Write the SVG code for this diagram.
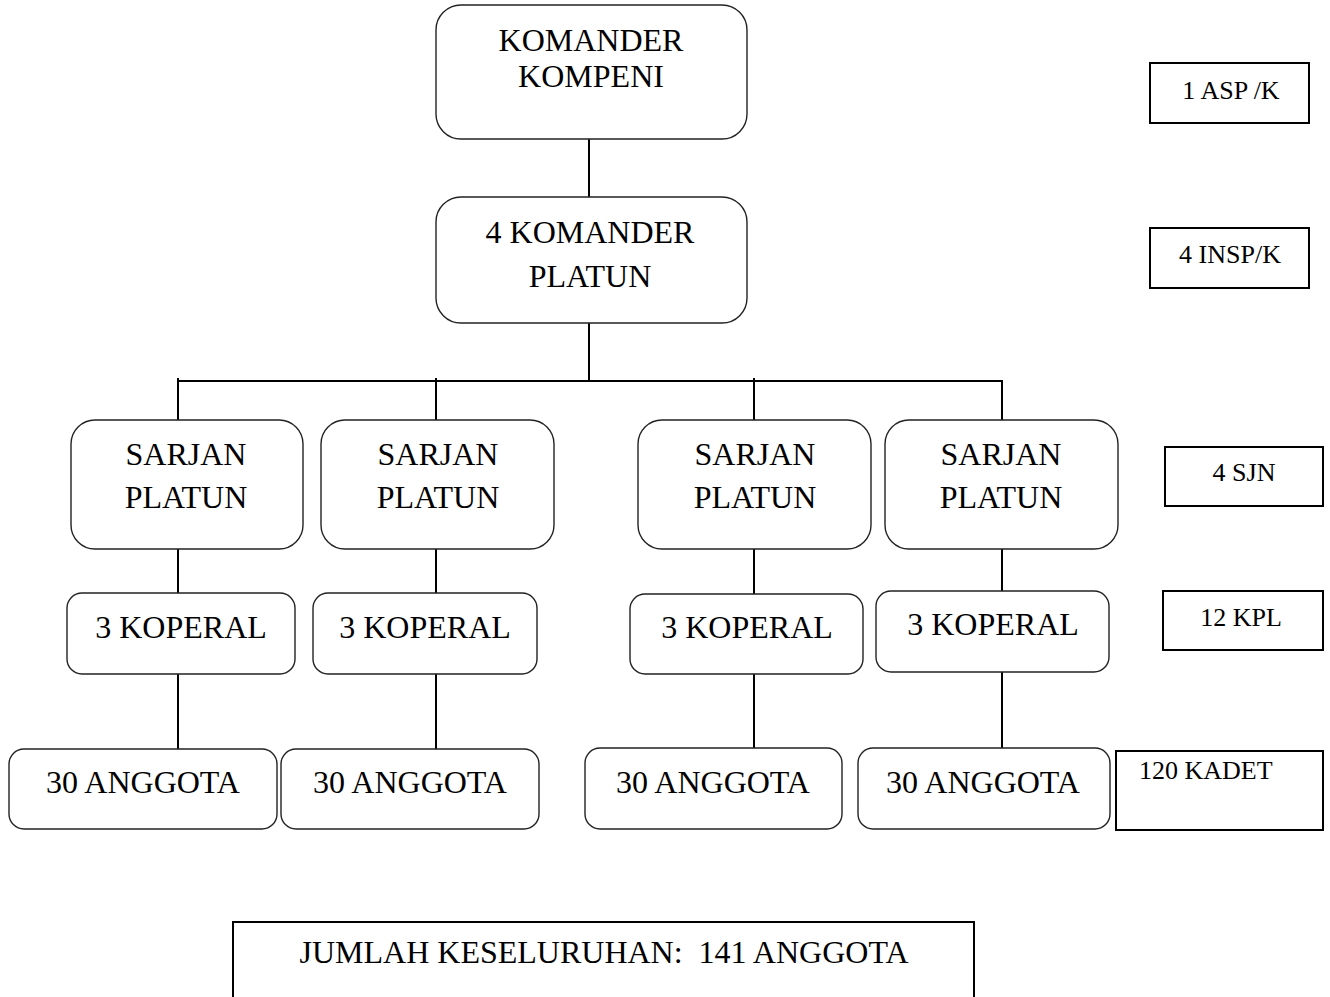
<svg xmlns="http://www.w3.org/2000/svg" width="1330" height="997" viewBox="0 0 1330 997">
<style>
.rb{fill:#fff;stroke:#222;stroke-width:1.4}
.sb{fill:#fff;stroke:#000;stroke-width:2}
.t{font-family:"Liberation Serif","Times New Roman",serif;font-size:32px;fill:#000;text-anchor:middle}
.s{font-family:"Liberation Serif","Times New Roman",serif;font-size:26px;fill:#000;text-anchor:middle}
.c{stroke:#000;stroke-width:2;fill:none}
</style>
<rect width="1330" height="997" fill="#fff"/>
<g id="connectors">
<line class="c" x1="589" y1="139" x2="589" y2="197"/>
<line class="c" x1="589" y1="323" x2="589" y2="381"/>
<line class="c" x1="177" y1="381" x2="1003" y2="381"/>
<line class="c" x1="178" y1="378" x2="178" y2="420"/>
<line class="c" x1="436" y1="378" x2="436" y2="420"/>
<line class="c" x1="754" y1="378" x2="754" y2="420"/>
<line class="c" x1="1002" y1="381" x2="1002" y2="420"/>
<line class="c" x1="178" y1="549" x2="178" y2="593"/>
<line class="c" x1="436" y1="549" x2="436" y2="593"/>
<line class="c" x1="754" y1="549" x2="754" y2="594"/>
<line class="c" x1="1002" y1="549" x2="1002" y2="591"/>
<line class="c" x1="178" y1="674" x2="178" y2="749"/>
<line class="c" x1="436" y1="674" x2="436" y2="749"/>
<line class="c" x1="754" y1="674" x2="754" y2="748"/>
<line class="c" x1="1002" y1="672" x2="1002" y2="748"/>
</g>
<g id="komander-kompeni">
<rect class="rb" x="436" y="5" width="311" height="134" rx="25"/>
<text class="t" x="591" y="51">KOMANDER</text>
<text class="t" x="591" y="87">KOMPENI</text>
</g>
<g id="komander-platun">
<rect class="rb" x="436" y="197" width="311" height="126" rx="25"/>
<text class="t" x="590" y="243">4 KOMANDER</text>
<text class="t" x="590" y="287">PLATUN</text>
</g>
<g id="sarjan-1">
<rect class="rb" x="71" y="420" width="232" height="129" rx="24"/>
<text class="t" x="186" y="465">SARJAN</text>
<text class="t" x="186" y="508">PLATUN</text>
</g>
<g id="sarjan-2">
<rect class="rb" x="321" y="420" width="233" height="129" rx="24"/>
<text class="t" x="438" y="465">SARJAN</text>
<text class="t" x="438" y="508">PLATUN</text>
</g>
<g id="sarjan-3">
<rect class="rb" x="638" y="420" width="233" height="129" rx="24"/>
<text class="t" x="755" y="465">SARJAN</text>
<text class="t" x="755" y="508">PLATUN</text>
</g>
<g id="sarjan-4">
<rect class="rb" x="885" y="420" width="233" height="129" rx="24"/>
<text class="t" x="1001" y="465">SARJAN</text>
<text class="t" x="1001" y="508">PLATUN</text>
</g>
<g id="koperal-1">
<rect class="rb" x="67" y="593" width="228" height="81" rx="15"/>
<text class="t" x="181" y="638">3 KOPERAL</text>
</g>
<g id="koperal-2">
<rect class="rb" x="313" y="593" width="224" height="81" rx="15"/>
<text class="t" x="425" y="638">3 KOPERAL</text>
</g>
<g id="koperal-3">
<rect class="rb" x="630" y="594" width="233" height="80" rx="15"/>
<text class="t" x="747" y="638">3 KOPERAL</text>
</g>
<g id="koperal-4">
<rect class="rb" x="876" y="591" width="233" height="81" rx="15"/>
<text class="t" x="993" y="635">3 KOPERAL</text>
</g>
<g id="anggota-1">
<rect class="rb" x="9" y="749" width="268" height="80" rx="15"/>
<text class="t" x="143" y="793">30 ANGGOTA</text>
</g>
<g id="anggota-2">
<rect class="rb" x="281" y="749" width="258" height="80" rx="15"/>
<text class="t" x="410" y="793">30 ANGGOTA</text>
</g>
<g id="anggota-3">
<rect class="rb" x="585" y="748" width="257" height="81" rx="15"/>
<text class="t" x="713" y="793">30 ANGGOTA</text>
</g>
<g id="anggota-4">
<rect class="rb" x="858" y="748" width="252" height="81" rx="15"/>
<text class="t" x="983" y="793">30 ANGGOTA</text>
</g>
<g id="asp">
<rect class="sb" x="1150" y="63" width="159" height="60"/>
<text class="s" x="1231" y="99">1 ASP /K</text>
</g>
<g id="insp">
<rect class="sb" x="1150" y="228" width="159" height="60"/>
<text class="s" x="1230" y="263">4 INSP/K</text>
</g>
<g id="sjn">
<rect class="sb" x="1165" y="447" width="158" height="59"/>
<text class="s" x="1244" y="481">4 SJN</text>
</g>
<g id="kpl">
<rect class="sb" x="1163" y="591" width="160" height="59"/>
<text class="s" x="1241" y="626">12 KPL</text>
</g>
<g id="kadet">
<rect class="sb" x="1116" y="751" width="207" height="79"/>
<text class="s" x="1139" y="779" style="text-anchor:start">120 KADET</text>
</g>
<g id="jumlah">
<rect class="sb" x="233" y="922" width="741" height="100"/>
<text class="t" x="604" y="963" xml:space="preserve">JUMLAH KESELURUHAN:  141 ANGGOTA</text>
</g>
</svg>
